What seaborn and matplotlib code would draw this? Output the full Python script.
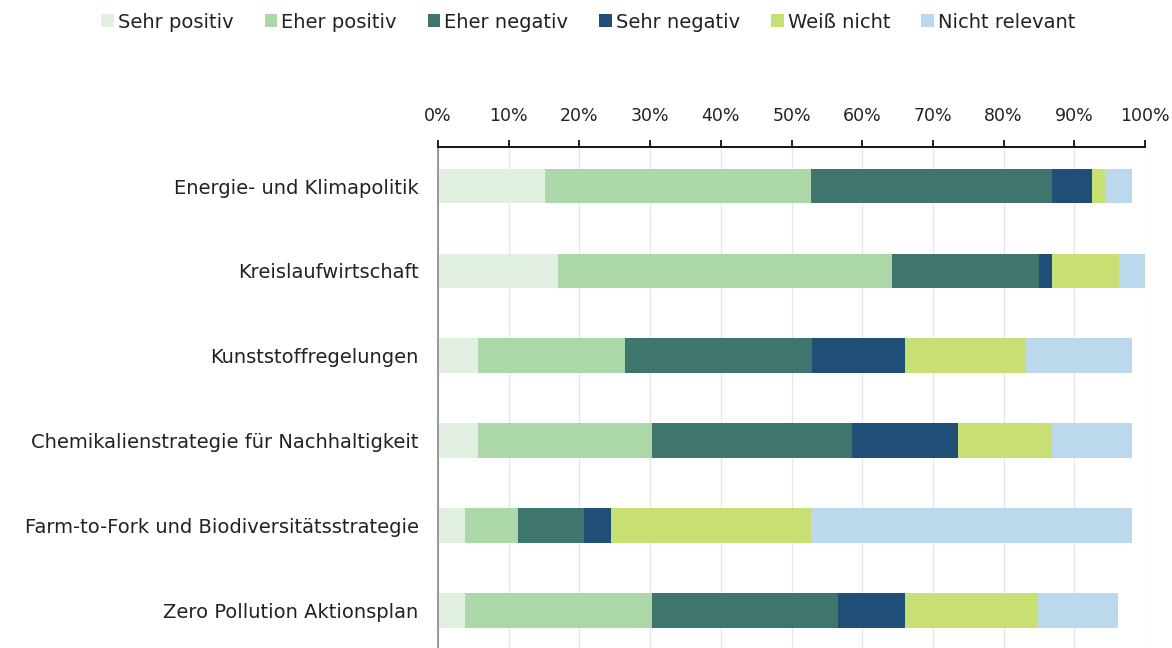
import pandas as pd
import matplotlib.pyplot as plt
import seaborn as sns
from matplotlib.patches import Patch
from matplotlib.ticker import PercentFormatter

# ==========================================
# Daten
# ==========================================
themen = [
    'Energie- und Klimapolitik',
    'Kreislaufwirtschaft',
    'Kunststoffregelungen',
    'Chemikalienstrategie für Nachhaltigkeit',
    'Farm-to-Fork und Biodiversitätsstrategie',
    'Zero Pollution Aktionsplan',
]
antworten = ['Sehr positiv', 'Eher positiv', 'Eher negativ',
             'Sehr negativ', 'Weiß nicht', 'Nicht relevant']

sehr_positiv = [15.1, 17.0, 5.7, 5.7, 3.8, 3.8]
eher_positiv = [37.7, 47.2, 20.8, 24.5, 7.5, 26.4]
eher_negativ = [34.0, 20.8, 26.4, 28.3, 9.4, 26.4]
sehr_negativ = [5.7, 1.9, 13.2, 15.1, 3.8, 9.4]
weiss_nicht = [1.9, 9.4, 17.0, 13.2, 28.3, 18.9]
nicht_relevant = [3.8, 3.8, 15.1, 11.3, 45.3, 11.3]

farben = ['#E2F0E2', '#ABD7A9', '#3E766D', '#1F4F77', '#C8E073', '#BCD8EC']

df = pd.DataFrame({
    'Sehr positiv': sehr_positiv,
    'Eher positiv': eher_positiv,
    'Eher negativ': eher_negativ,
    'Sehr negativ': sehr_negativ,
    'Weiß nicht': weiss_nicht,
    'Nicht relevant': nicht_relevant,
}, index=themen)
cum = df.cumsum(axis=1)

# ==========================================
# Plot
# ==========================================
sns.set_theme(style='white')
plt.rcParams['font.family'] = ['DejaVu Sans']

fig = plt.figure(figsize=(11.72, 6.48), dpi=100)
ax = fig.add_axes([438 / 1172, 0.0, 707 / 1172, 1 - 147 / 648])

# gestapelt: von hinten (größte Summe) nach vorne zeichnen
for name, farbe in reversed(list(zip(antworten, farben))):
    sns.barplot(x=cum[name].values, y=themen, color=farbe, orient='h',
                width=0.41, saturation=1, linewidth=0, ax=ax)

ax.set_xlim(0, 100)
ax.set_ylim(5.44, -0.46)
ax.xaxis.tick_top()
ax.xaxis.set_major_formatter(PercentFormatter(decimals=0))
ax.set_xticks(range(0, 101, 10))
ax.grid(axis='x', color='#e6e6e6', linewidth=1)
ax.set_axisbelow(True)
ax.set_xlabel('')
ax.set_ylabel('')

for s in ['right', 'bottom']:
    ax.spines[s].set_visible(False)
ax.spines['top'].set_color('black')
ax.spines['top'].set_linewidth(1.3)
ax.spines['left'].set_color('#888888')
ax.spines['left'].set_linewidth(1.2)

ax.tick_params(axis='x', top=True, direction='out', length=5, width=1.2,
               color='black', labelsize=12.5, pad=11, labelcolor='#222222')
ax.tick_params(axis='y', length=0, labelsize=14, pad=14, labelcolor='#222222')

handles = [Patch(facecolor=f, edgecolor='none', label=a) for a, f in zip(antworten, farben)]
fig.legend(handles=handles, loc='center', bbox_to_anchor=(0.502, 1 - 22 / 648),
           ncol=6, frameon=False, fontsize=14, handlelength=0.65, handleheight=0.65,
           handletextpad=0.2, columnspacing=1.6, labelcolor='#222222')

plt.savefig('out.png', dpi=100)
